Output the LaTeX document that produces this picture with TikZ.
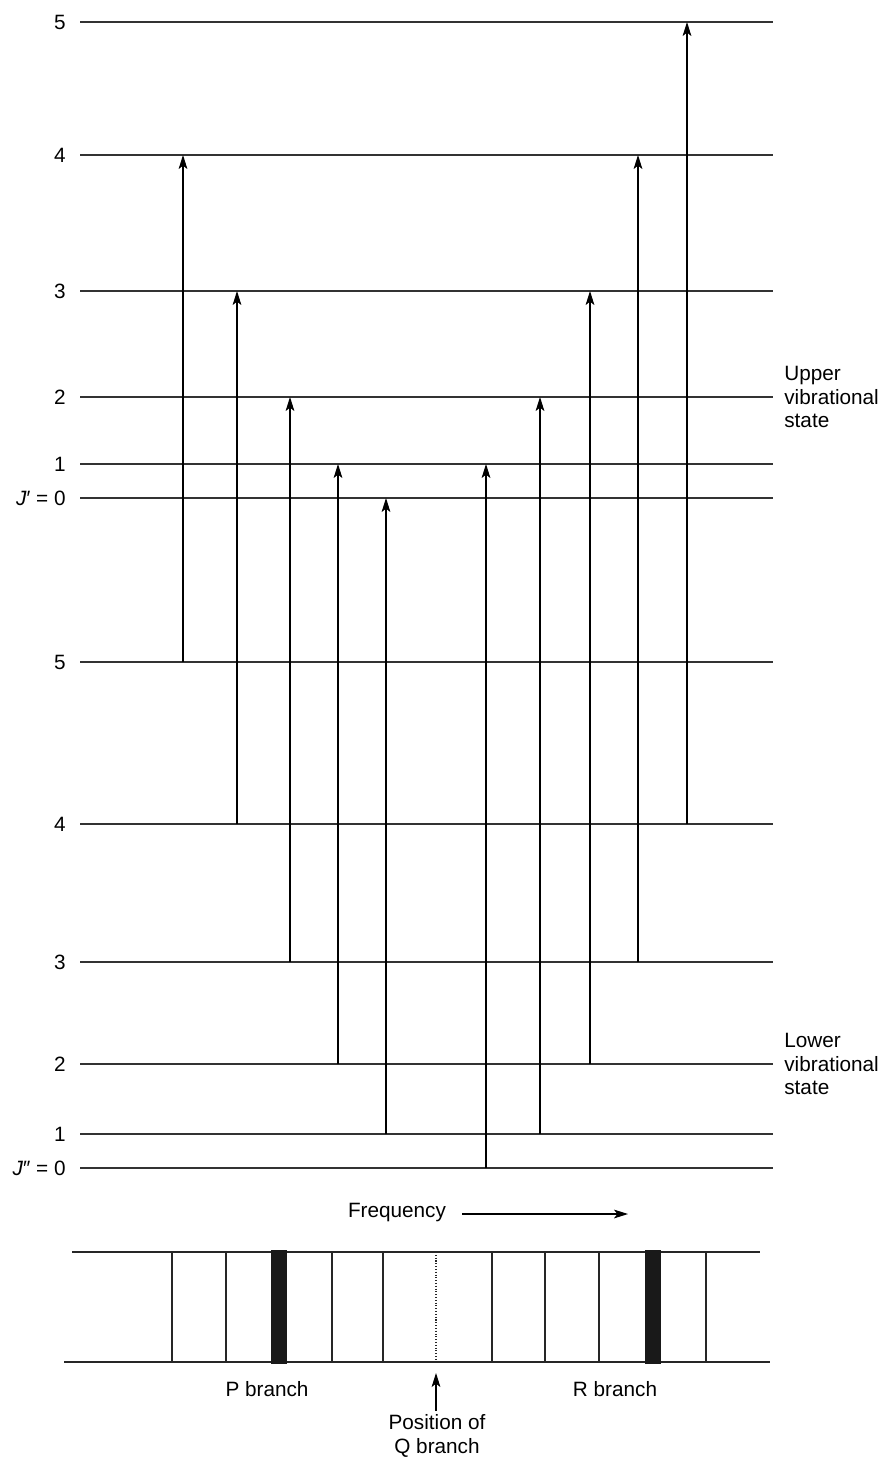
\documentclass[tikz,border=0pt]{standalone}
\usepackage{fontspec}
\setmainfont{Liberation Sans}
\usetikzlibrary{arrows.meta}

\begin{document}
\begin{tikzpicture}[
    x=0.02cm, y=-0.02cm,
    every node/.style={font=\fontsize{11.8}{13.6}\selectfont},
    level/.style={line width=0.6pt, black!80},
    lvllabel/.style={anchor=east, inner sep=0pt},
    trans/.style={-{Stealth[length=8pt, width=5pt, inset=2pt]}, line width=0.6pt},
    arrow/.style={-{Stealth[length=8pt, width=5pt, inset=2pt]}, line width=0.6pt},
    specline/.style={line width=0.6pt, black!85},
    state/.style={align=left, anchor=west, inner sep=0pt}
]
\useasboundingbox (0,0) rectangle (883,1460);

% rotational levels
\foreach \n/\y in {5/22, 4/155, 3/291, 2/397, 1/464} {
  \node[lvllabel] (U\n) at (66,\y) {\n};
  \draw[level] (80,\y) -- (773,\y);
}
\node[lvllabel] (U0) at (66,498) {\textit{J}′ = 0};
\draw[level] (80,498) -- (773,498);
\foreach \n/\y in {5/662, 4/824, 3/962, 2/1064, 1/1134} {
  \node[lvllabel] (L\n) at (66,\y) {\n};
  \draw[level] (80,\y) -- (773,\y);
}
\node[lvllabel] (L0) at (66,1168) {\textit{J}″ = 0};
\draw[level] (80,1168) -- (773,1168);

\node[state] (upper) at (784,397) {Upper\\vibrational\\state};
\node[state] (lower) at (784,1064) {Lower\\vibrational\\state};

% transitions
\foreach \x/\lo/\up in {183/L5/U4, 237/L4/U3, 290/L3/U2, 338/L2/U1, 386/L1/U0,
                        486/L0/U1, 540/L1/U2, 590/L2/U3, 638/L3/U4, 687/L4/U5} {
  \coordinate (t\x) at (\x,0);
  \draw[trans] (t\x |- \lo) -- (t\x |- \up);
}

% spectrum
\node (freq) at (397,1213) {Frequency};
\coordinate (fstart) at (462,1214);
\coordinate (fend) at (628,1214);
\draw[arrow] (fstart) -- (fend);

\draw[specline] (72,1252) -- (760,1252);
\draw[specline] (64,1362) -- (770,1362);
\foreach \x in {172, 226, 383, 492, 545, 599} {
  \draw[specline] (\x,1252) -- (\x,1362);
}
\foreach \x in {332, 706} {
  \draw[specline, line width=1.2pt] (\x,1252) -- (\x,1362);
}
\fill[black!90] (271,1250) rectangle (287,1364);
\fill[black!90] (644.5,1250) rectangle (660.5,1364);
\draw[specline, densely dotted] (436,1252) -- (436,1362);

\node (pbranch) at (267,1389) {P branch};
\node (rbranch) at (615,1389) {R branch};
\node[align=center, anchor=north, inner sep=2pt] (qpos) at (437,1411) {Position of\\Q branch};
\coordinate (qtip) at (436,1373);
\draw[arrow] (qpos.north -| qtip) -- (qtip);
\end{tikzpicture}
\end{document}
